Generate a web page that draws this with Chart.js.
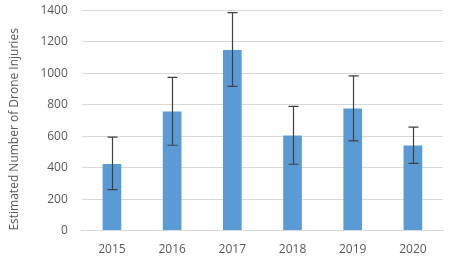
<!DOCTYPE html>
<html>
<head>
<meta charset="utf-8">
<script src="https://cdn.jsdelivr.net/npm/chart.js@4"></script>
<style>
  body { margin: 0; background: #fff; }
  canvas { display: block; }
</style>
</head>
<body>
<canvas id="chart" width="450" height="261"></canvas>
<script>
var years = ["2015", "2016", "2017", "2018", "2019", "2020"];
var injuries = [424, 758, 1148, 605, 777, 541];
var errLow = [260, 543, 918, 422, 571, 428];
var errHigh = [594, 974, 1386, 790, 984, 658];
var yTicks = [0, 200, 400, 600, 800, 1000, 1200, 1400];

// error bars drawn on top of the bars, through the chart's own scales
var errorBars = {
	id: 'errorBars',
	afterDatasetsDraw: function (chart) {
		var ctx = chart.ctx;
		var x = chart.scales.x;
		var y = chart.scales.y;
		ctx.save();
		ctx.strokeStyle = '#404040';
		ctx.lineWidth = 1.2;
		for (var i = 0; i < years.length; i++) {
			var px = Math.round(x.getPixelForValue(i)) + 0.5;
			var top = y.getPixelForValue(errHigh[i]);
			var bot = y.getPixelForValue(errLow[i]);
			ctx.beginPath();
			ctx.moveTo(px, top);
			ctx.lineTo(px, bot);
			ctx.moveTo(px - 5, top);
			ctx.lineTo(px + 5, top);
			ctx.moveTo(px - 5, bot);
			ctx.lineTo(px + 5, bot);
			ctx.stroke();
		}
		ctx.restore();
	}
};

var ctx = document.getElementById('chart').getContext('2d');
var myChart = new Chart(ctx, {
	type: 'bar',
	data: {
		labels: years,
		datasets: [{
			data: injuries,
			backgroundColor: '#5b9bd5',
			borderWidth: 0,
			barPercentage: 1,
			categoryPercentage: 0.31
		}]
	},
	options: {
		responsive: false,
		animation: false,
		layout: { padding: { top: 10.5, right: 7, bottom: -8, left: 7 } },
		plugins: {
			legend: { display: false },
			tooltip: { enabled: false }
		},
		scales: {
			x: {
				grid: { display: false, drawTicks: false },
				border: { color: '#d9d9d9', width: 1 },
				ticks: { color: '#595959', padding: 12, font: { family: 'Open Sans', size: 12 } }
			},
			y: {
				min: 0,
				max: 1400,
				afterBuildTicks: function (axis) {
					axis.ticks = yTicks.map(function (v) { return { value: v }; });
				},
				afterFit: function (axis) {
					axis.paddingTop = 0;
				},
				grid: { color: '#d9d9d9', drawTicks: false },
				border: { display: false },
				ticks: {
					color: '#595959',
					padding: 14,
					font: { family: 'Open Sans', size: 12 },
					callback: function (v) { return String(v); }
				},
				title: {
					display: true,
					text: 'Estimated Number of Drone Injuries',
					align: 'start',
					color: '#595959',
					padding: { top: 0, bottom: 5 },
					font: { family: 'Open Sans', size: 12 }
				}
			}
		}
	},
	plugins: [errorBars]
});
</script>
</body>
</html>
